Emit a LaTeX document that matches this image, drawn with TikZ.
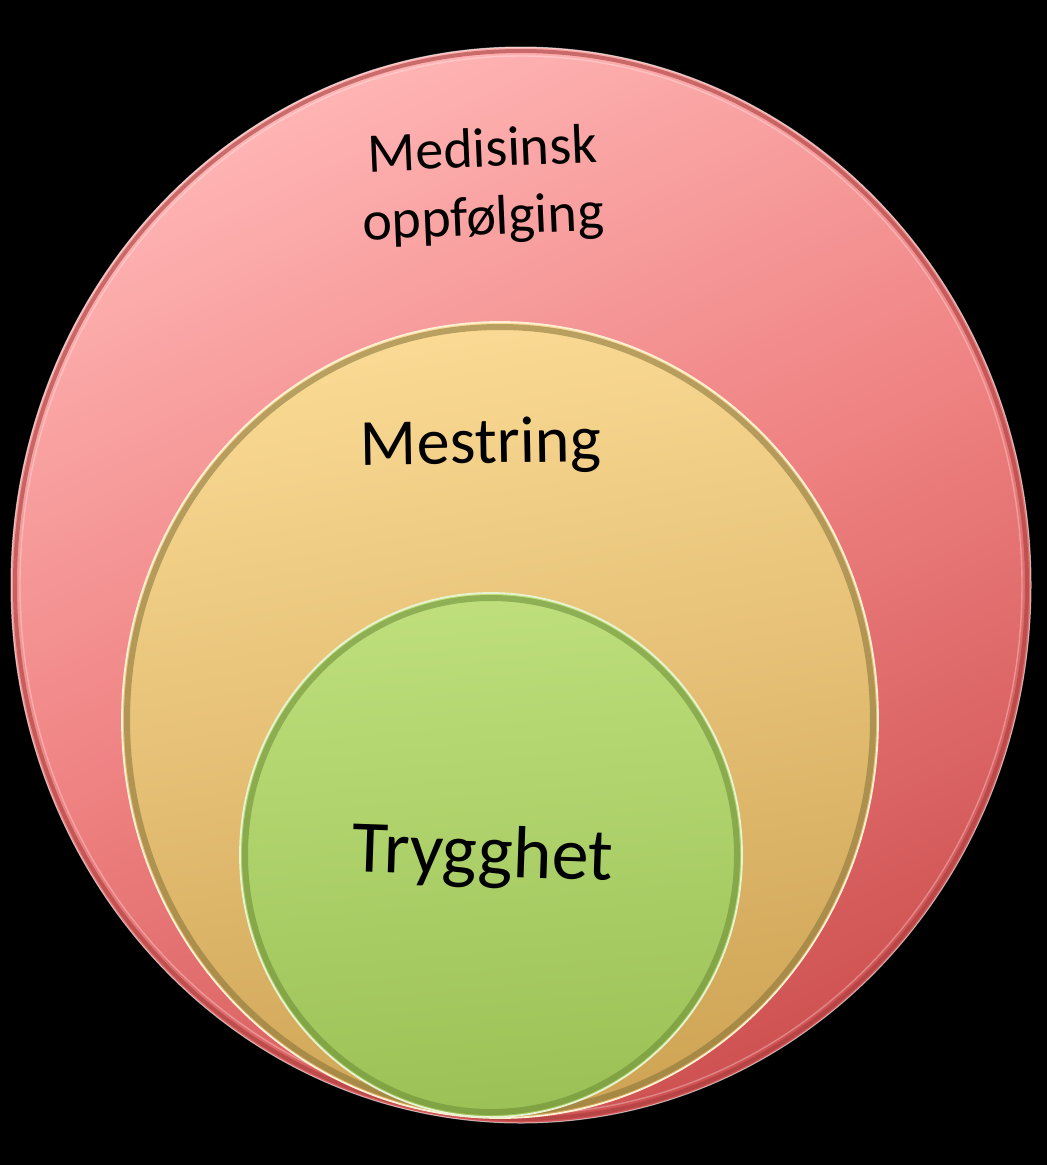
\documentclass[tikz,border=0pt]{standalone}
\usepackage{fontspec}
\setmainfont{Carlito}
\usetikzlibrary{positioning}

\definecolor{redlight}{HTML}{FFB4B4}
\definecolor{redmid}{HTML}{EF8282}
\definecolor{reddark}{HTML}{CF5252}
\definecolor{redrim}{HTML}{A83C3C}
\definecolor{orangelight}{HTML}{FADA94}
\definecolor{orangedark}{HTML}{CFA455}
\definecolor{orangerim}{HTML}{857238}
\definecolor{greenlight}{HTML}{BEDF7C}
\definecolor{greendark}{HTML}{9BC156}
\definecolor{greenrim}{HTML}{6A8A34}

\tikzset{
  label text/.style={text=black, inner sep=0pt, anchor=base},
  rim light/.style={line width=1.4pt, draw=white, draw opacity=0.75},
}

\begin{document}
\begin{tikzpicture}[x=1pt, y=-1pt]
    % Background
    \fill[black] (0,0) rectangle (1047,1165);
    \useasboundingbox (0,0) rectangle (1047,1165);

    % Outer ellipse: Medisinsk oppfoelging
    \begin{scope}
        \shade[top color=redlight, bottom color=reddark, middle color=redmid, shading angle=25]
            (521,585) ellipse [x radius=510pt, y radius=538pt];
        \draw[redrim, line width=4pt, draw opacity=0.6]
            (521,585) ellipse [x radius=506pt, y radius=534pt];
        \draw[rim light, draw opacity=0.3]
            (521,585) ellipse [x radius=501pt, y radius=529pt];
        \draw[line width=1pt, draw=white, draw opacity=0.6]
            (521,585) ellipse [x radius=510pt, y radius=538pt];

        % Label
        \node[label text, rotate=2.5, font=\fontsize{56}{68}\selectfont]
            (medisinsk) at (483,167) {Medisinsk};
        \node[label text, rotate=2.5, font=\fontsize{56}{68}\selectfont]
            (oppfolging) at (484,235) {oppfølging};
    \end{scope}

    % Middle ellipse: Mestring
    \begin{scope}
        \shade[top color=orangelight, bottom color=orangedark, shading angle=10]
            (500,720) ellipse [x radius=378pt, y radius=398pt];
        \draw[orangerim, line width=6pt, draw opacity=0.55]
            (500,720) ellipse [x radius=373pt, y radius=393pt];
        \draw[line width=1.8pt, draw=orangelight!40!white]
            (500,720) ellipse [x radius=378pt, y radius=398pt];

        % Label
        \node[label text, rotate=1, font=\fontsize{66}{74}\selectfont]
            (mestring) at (481,463) {Mestring};
    \end{scope}

    % Inner ellipse: Trygghet
    \begin{scope}
        \shade[top color=greenlight, bottom color=greendark, shading angle=5]
            (491,855) ellipse [x radius=251pt, y radius=262pt];
        \draw[greenrim, line width=6pt, draw opacity=0.55]
            (491,855) ellipse [x radius=246pt, y radius=257pt];
        \draw[line width=1.8pt, draw=greenlight!35!white]
            (491,855) ellipse [x radius=251pt, y radius=262pt];

        % Label
        \node[label text, rotate=-2, font=\fontsize{74}{84}\selectfont]
            (trygghet) at (482,876) {Trygghet};
    \end{scope}
\end{tikzpicture}
\end{document}
